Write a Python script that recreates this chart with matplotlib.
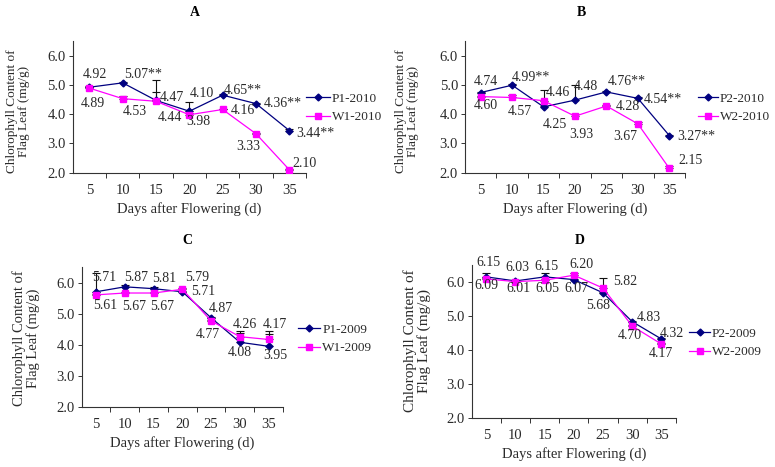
import matplotlib
matplotlib.use("Agg")
import matplotlib.pyplot as plt
import numpy as np

plt.rcParams["font.family"] = ["Liberation Serif", "DejaVu Serif"]

days = ["5", "10", "15", "20", "25", "30", "35"]

# A - 2010, P1 / W1
p1_2010 = [4.92, 5.07, 4.47, 4.10, 4.65, 4.36, 3.44]
w1_2010 = [4.89, 4.53, 4.44, 3.98, 4.16, 3.33, 2.10]
p1_2010_err = [0.03, 0.03, 0.71, 0.30, 0.03, 0.03, 0.04]
w1_2010_err = [0.03, 0.09, 0.33, 0.05, 0.03, 0.04, 0.03]
p1_2010_sig = ["", "**", "", "", "**", "**", "**"]

# B - 2010, P2 / W2
p2_2010 = [4.74, 4.99, 4.25, 4.48, 4.76, 4.54, 3.27]
w2_2010 = [4.60, 4.57, 4.46, 3.93, 4.28, 3.67, 2.15]
p2_2010_err = [0.03, 0.03, 0.03, 0.51, 0.03, 0.04, 0.03]
w2_2010_err = [0.03, 0.10, 0.38, 0.07, 0.05, 0.05, 0.08]
p2_2010_sig = ["", "**", "", "", "**", "**", "**"]

# C - 2009, P1 / W1
p1_2009 = [5.71, 5.87, 5.81, 5.71, 4.87, 4.08, 3.95]
w1_2009 = [5.61, 5.67, 5.67, 5.79, 4.77, 4.26, 4.17]
p1_2009_err = [0.59, 0.05, 0.04, 0.03, 0.04, 0.37, 0.50]
w1_2009_err = [0.03, 0.03, 0.03, 0.03, 0.03, 0.12, 0.17]

# D - 2009, P2 / W2
p2_2009 = [6.15, 6.03, 6.15, 6.07, 5.68, 4.83, 4.32]
w2_2009 = [6.09, 6.01, 6.05, 6.20, 5.82, 4.70, 4.17]
p2_2009_err = [0.10, 0.03, 0.10, 0.03, 0.03, 0.03, 0.03]
w2_2009_err = [0.03, 0.03, 0.03, 0.05, 0.30, 0.03, 0.03]

no_sig = [""] * 7

# posun popisků hodnot (pixely: doprava, nahoru)
off_a_p = [(6, 13), (20, 8), (16, 3), (13, 18), (20, 5), (27, 0), (26, -3)]
off_a_w = [(4, -15), (12, -13), (14, -16), (9, -7), (20, -1), (-8, -13), (15, 6)]
off_b_p = [(5, 11), (19, 8), (11, -18), (11, 14), (20, 10), (25, -1), (27, -1)]
off_b_w = [(5, -9), (8, -14), (14, 8), (6, -18), (21, -1), (-13, -13), (21, 8)]
off_c_p = [(8, 14), (11, 9), (11, 10), (21, 0), (10, 9), (0, -10), (7, -9)]
off_c_w = [(9, -11), (9, -13), (9, -13), (15, 12), (-3, -14), (5, 12), (6, 15)]
off_d_p = [(2, 14), (2, 13), (2, 10), (3, -9), (-5, -13), (17, 4), (10, 5)]
off_d_w = [(0, -7), (3, -7), (3, -8), (8, 11), (22, 7), (-2, -9), (-1, -9)]

NAVY = "#000080"
MAGENTA = "#FF00FF"
TXT = "#2a2a2a"
W, H = 775, 467


def draw_panel(ax, p, w, p_err, w_err, p_sig, w_sig, p_off, w_off, names,
               leg_x, leg_y, hl):
    x = np.arange(len(days))
    zero = np.zeros(len(days))

    ax.errorbar(x, p, yerr=[zero, p_err], fmt="none", ecolor="#111111",
                elinewidth=0.8, capsize=3, capthick=0.8, zorder=2)
    ax.errorbar(x, w, yerr=[zero, w_err], fmt="none", ecolor="#111111",
                elinewidth=0.8, capsize=3, capthick=0.8, zorder=2)
    ax.plot(x, p, color=NAVY, lw=0.9, marker="D", ms=3.5, label=names[0], zorder=3)
    ax.plot(x, w, color=MAGENTA, lw=0.9, marker="s", ms=4.2, label=names[1], zorder=3)

    for i in range(len(days)):
        ax.annotate(f"{p[i]:.2f}{p_sig[i]}", (x[i], p[i]), xytext=p_off[i],
                    textcoords="offset pixels", ha="center", va="center",
                    fontsize=10, color=TXT, zorder=4)
        ax.annotate(f"{w[i]:.2f}{w_sig[i]}", (x[i], w[i]), xytext=w_off[i],
                    textcoords="offset pixels", ha="center", va="center",
                    fontsize=10, color=TXT, zorder=4)

    ax.set_xlim(-0.5, len(days) - 0.5)
    ax.set_ylim(2.0, 6.5)
    ax.set_yticks([2, 3, 4, 5, 6])
    ax.set_yticklabels([f"{v:.1f}" for v in [2, 3, 4, 5, 6]])

    # kategorie: značky na hranicích, popisky uprostřed
    ax.set_xticks(np.arange(len(days)) + 0.5)
    ax.set_xticklabels([])
    ax.set_xticks(x, minor=True)
    ax.set_xticklabels(days, minor=True)
    ax.tick_params(axis="x", which="major", direction="out", length=3.5,
                   width=0.7, color="#333333")
    ax.tick_params(axis="x", which="minor", length=0, pad=8, labelsize=10.5,
                   labelcolor=TXT)
    ax.tick_params(axis="y", direction="out", length=3, width=0.7, pad=2,
                   labelsize=10.5, labelcolor=TXT, color="#333333")

    for s in ["top", "right"]:
        ax.spines[s].set_visible(False)
    for s in ["left", "bottom"]:
        ax.spines[s].set_color("#333333")
        ax.spines[s].set_linewidth(0.8)

    ax.set_xlabel("Days after Flowering (d)", fontsize=10.5, color=TXT, labelpad=4)

    ax.legend(loc="center left", bbox_to_anchor=(leg_x / W, 1 - leg_y / H),
              bbox_transform=ax.figure.transFigure, frameon=False, fontsize=9.5,
              borderpad=0, borderaxespad=0, handlelength=hl, handletextpad=0.15,
              labelspacing=0.45, labelcolor=TXT)


fig = plt.figure(figsize=(W / 100, H / 100), dpi=100)

ax_a = fig.add_axes([72.7 / W, 1 - 172.7 / H, 233.3 / W, 131.7 / H])
ax_b = fig.add_axes([465 / W, 1 - 172.7 / H, 220 / W, 131.7 / H])
ax_c = fig.add_axes([81.7 / W, 1 - 406.7 / H, 201.3 / W, 139.4 / H])
ax_d = fig.add_axes([471.7 / W, 1 - 417.7 / H, 204.3 / W, 152.7 / H])

draw_panel(ax_a, p1_2010, w1_2010, p1_2010_err, w1_2010_err, p1_2010_sig, no_sig,
           off_a_p, off_a_w, ["P1-2010", "W1-2010"], 306, 108, 1.8)
draw_panel(ax_b, p2_2010, w2_2010, p2_2010_err, w2_2010_err, p2_2010_sig, no_sig,
           off_b_p, off_b_w, ["P2-2010", "W2-2010"], 698, 108, 1.5)
draw_panel(ax_c, p1_2009, w1_2009, p1_2009_err, w1_2009_err, no_sig, no_sig,
           off_c_p, off_c_w, ["P1-2009", "W1-2009"], 298, 339, 1.7)
draw_panel(ax_d, p2_2009, w2_2009, p2_2009_err, w2_2009_err, no_sig, no_sig,
           off_d_p, off_d_w, ["P2-2009", "W2-2009"], 689, 343, 1.6)

# popisky os y a titulky panelů
ylab = "Chlorophyll Content of\nFlag Leaf (mg/g)"
for (cx, cy, fs) in [(18, 111, 9.5), (407, 111, 9.5), (26.5, 338, 10.5), (417.5, 341, 11)]:
    fig.text(cx / W, 1 - cy / H, ylab, rotation=90, ha="center", va="center",
             multialignment="center", fontsize=fs, color=TXT, linespacing=1.0)

for (t, tx, ty) in [("A", 195, 13), ("B", 581, 13), ("C", 187, 240), ("D", 580, 240)]:
    fig.text(tx / W, 1 - ty / H, t, ha="center", va="center", fontsize=10,
             fontweight="bold")

fig.savefig("out.png", dpi=100)
